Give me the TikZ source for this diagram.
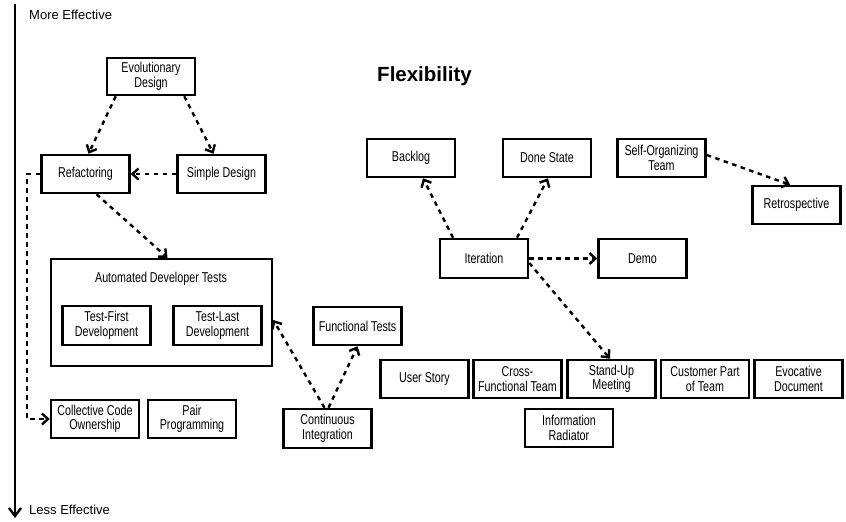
\documentclass[tikz,border=0pt]{standalone}
\usepackage{fontspec}
\setmainfont{Liberation Sans}
\newfontfamily\narrowfont[FakeStretch=0.75]{Liberation Sans}
\usetikzlibrary{arrows.meta}
\begin{document}
\begin{tikzpicture}[x=1pt,y=-1pt,
  box/.style={draw,line width=2.5pt,minimum width=88pt,minimum height=38pt,inner sep=0pt,align=center,
    font=\narrowfont\fontsize{14.3}{14.5}\selectfont},
  dep/.style={line width=2.4pt,dash pattern=on 4.5pt off 4.5pt,-{Straight Barb[length=6pt,width=11pt]}},
  lbl/.style={font=\fontsize{13}{14}\selectfont,anchor=west,inner sep=0pt}]
\useasboundingbox (0,0) rectangle (846,522);
% axis
\coordinate (top) at (15,4);
\coordinate (bot) at (15,518);
\draw[line width=2.4pt,-{Straight Barb[length=8pt,width=12pt]}] (top) -- (bot);
\node[lbl] (more) at (29,15) {More Effective};
\node[lbl] (less) at (29,510) {Less Effective};
\node[font=\bfseries\fontsize{20.5}{22}\selectfont] (flex) at (424.5,76) {Flexibility};
% left cluster
\node[box,minimum height=37pt] (evo) at (151,76.5) {Evolutionary\\Design};
\node[box] (ref) at (85.5,174) {Refactoring};
\node[box] (simp) at (221.5,174) {Simple Design};
\node[draw,line width=2.5pt,minimum width=221pt,minimum height=107pt,inner sep=0pt] (adt) at (161.5,312.5) {};
\node[font=\narrowfont\fontsize{14.3}{14.5}\selectfont] (adtt) at (161,279) {Automated Developer Tests};
\node[box,minimum height=39pt] (tfd) at (106.5,325.5) {Test-First\\Development};
\node[box,minimum height=39pt] (tld) at (217.5,325.5) {Test-Last\\Development};
\node[box] (cco) at (95,419) {Collective Code\\Ownership};
\node[box] (pp) at (192,419) {Pair\\Programming};
\node[box,minimum height=39pt] (ci) at (327.5,428.5) {Continuous\\Integration};
\node[box] (ft) at (357.5,326) {Functional Tests};
% right cluster
\node[box] (backlog) at (411,158) {Backlog};
\node[box] (done) at (547,158) {Done State};
\node[box] (sot) at (661.5,158) {Self-Organizing\\Team};
\node[box] (retro) at (796.5,205) {Retrospective};
\node[box,minimum height=39pt] (iter) at (484,258.5) {Iteration};
\node[box,minimum height=39pt] (demo) at (642.5,258.5) {Demo};
\node[box] (us) at (424.5,379) {User Story};
\node[box] (cft) at (517.5,379) {Cross-\\Functional Team};
\node[box] (sum) at (611.5,379) {Stand-Up\\Meeting};
\node[box] (cpt) at (705,379) {Customer Part\\of Team};
\node[box] (evoc) at (798.5,379) {Evocative\\Document};
\node[box] (ir) at (569,428) {Information\\Radiator};
% connectors
\draw[dep] ([xshift=10pt]evo.south west) -- ([xshift=3pt]ref.north);
\draw[dep] ([xshift=-12pt]evo.south east) -- ([xshift=-8pt]simp.north);
\draw[dep] (simp.west) -- (ref.east);
\draw[dep] ([xshift=11pt]ref.south) -- ([xshift=6pt]adt.north);
\draw[dep] (ref.west) -- ++(-13,0) |- (cco.west);
\draw[dep] ([xshift=-3pt]ci.north) -- ([yshift=-7.5pt]adt.east);
\draw[dep] ([xshift=1pt]ci.north) -- (ft.south);
\draw[dep] ([xshift=-31pt]iter.north) -- ([xshift=12pt]backlog.south);
\draw[dep] ([xshift=33pt]iter.north) -- ([xshift=1pt]done.south);
\draw[dep] (iter.east) -- (demo.west);
\draw[dep] ([yshift=-4.5pt]iter.east) -- ([xshift=-1.5pt]sum.north);
\draw[dep] ([yshift=3pt]sot.east) -- ([xshift=-6.5pt]retro.north);
\end{tikzpicture}
\end{document}
